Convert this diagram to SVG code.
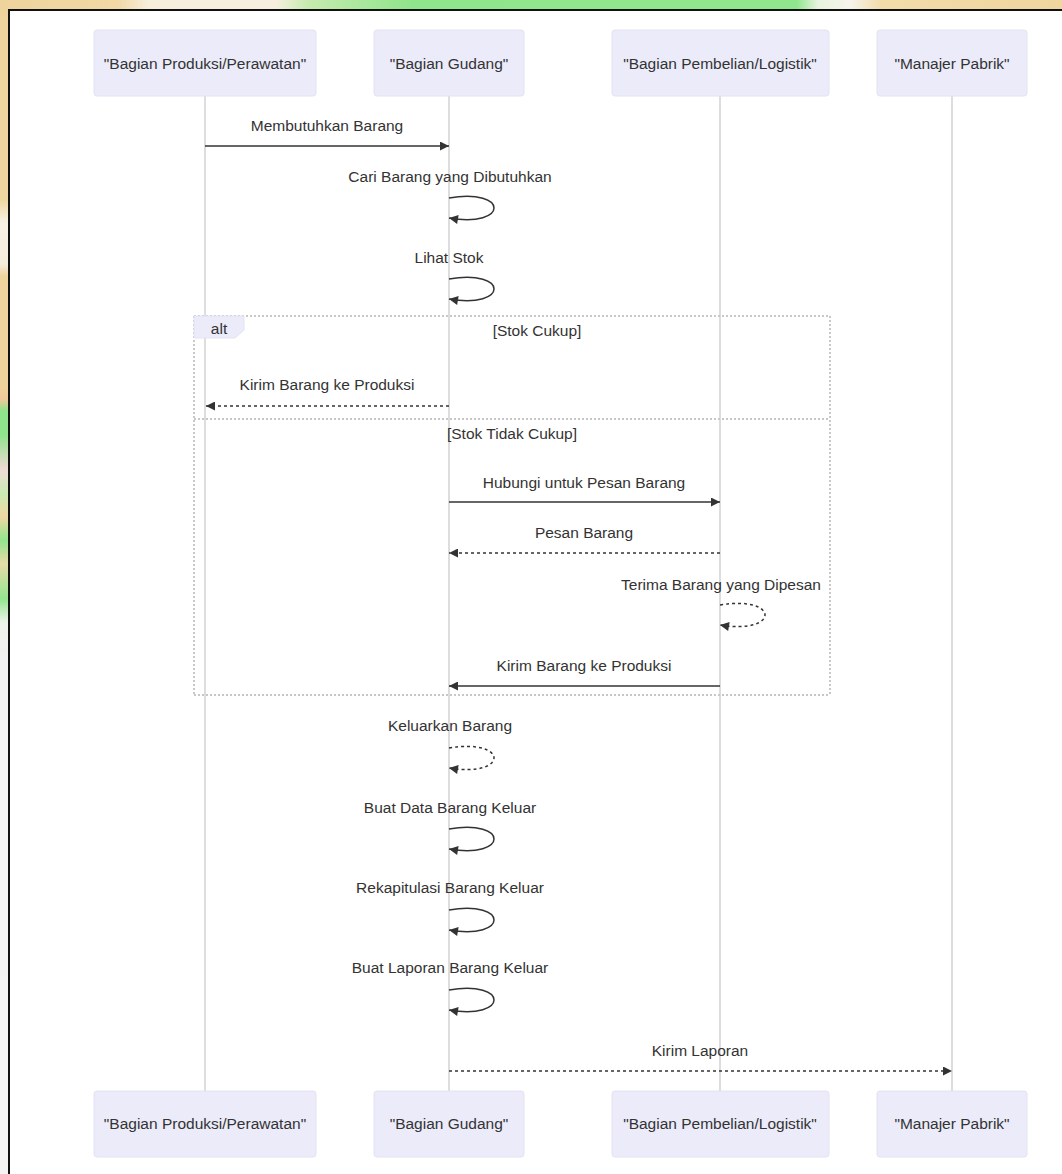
<svg xmlns="http://www.w3.org/2000/svg" width="1062" height="1174" viewBox="0 0 1062 1174">
  <defs>
    <linearGradient id="topBg" x1="0" y1="0" x2="1" y2="0">
      <stop offset="0" stop-color="#eed39c"/>
      <stop offset="0.11" stop-color="#f1d8a4"/>
      <stop offset="0.14" stop-color="#f7eedc"/>
      <stop offset="0.26" stop-color="#f6efdf"/>
      <stop offset="0.29" stop-color="#c6ebaf"/>
      <stop offset="0.39" stop-color="#8ee58b"/>
      <stop offset="0.75" stop-color="#8fe68d"/>
      <stop offset="0.77" stop-color="#e8f3de"/>
      <stop offset="0.80" stop-color="#f7f4ec"/>
      <stop offset="0.83" stop-color="#f2dcaa"/>
      <stop offset="1" stop-color="#efd59e"/>
    </linearGradient>
    <linearGradient id="leftBg" x1="0" y1="0" x2="0" y2="1">
      <stop offset="0" stop-color="#eed39c"/>
      <stop offset="0.17" stop-color="#efd6a0"/>
      <stop offset="0.19" stop-color="#f8f2e6"/>
      <stop offset="0.225" stop-color="#f6eedc"/>
      <stop offset="0.235" stop-color="#efd49e"/>
      <stop offset="0.33" stop-color="#efd39c"/>
      <stop offset="0.34" stop-color="#f1c89a"/>
      <stop offset="0.35" stop-color="#8fe48c"/>
      <stop offset="0.37" stop-color="#8fe48c"/>
      <stop offset="0.40" stop-color="#eedbd6"/>
      <stop offset="0.42" stop-color="#c9ecb4"/>
      <stop offset="0.44" stop-color="#f0d7a2"/>
      <stop offset="0.46" stop-color="#92e58e"/>
      <stop offset="0.48" stop-color="#e8dca8"/>
      <stop offset="0.51" stop-color="#93e690"/>
      <stop offset="0.53" stop-color="#eef3ea"/>
      <stop offset="0.56" stop-color="#f2f2f2"/>
      <stop offset="1" stop-color="#f4f4f4"/>
    </linearGradient>
    <marker id="arrow" viewBox="0 0 10 10" refX="10" refY="5" markerWidth="10" markerHeight="9" markerUnits="userSpaceOnUse" orient="auto">
      <path d="M0,0 L10,5 L0,10 z" fill="#333"/>
    </marker>
    <style>
      .actor rect { fill: #ebebfa; stroke: #e2e2f2; stroke-width: 1; }
      .actor text { font-family: "Liberation Sans", Arial, sans-serif; font-size: 15.5px; fill: #333; text-anchor: middle; dominant-baseline: central; }
      .lifeline { stroke: #d2d2d2; stroke-width: 1.5; }
      .msg-label { font-family: "Liberation Sans", Arial, sans-serif; font-size: 15.5px; fill: #333; text-anchor: middle; dominant-baseline: central; }
      .solid { stroke: #333; stroke-width: 1.5; fill: none; marker-end: url(#arrow); }
      .dotted { stroke: #333; stroke-width: 1.5; fill: none; stroke-dasharray: 3,3; marker-end: url(#arrow); }
      .loopline { stroke: #c8c8c8; stroke-width: 2; stroke-dasharray: 2,2; fill: none; }
      .labelbox { fill: #ebebfa; stroke: #e2e2f2; stroke-width: 1; }
    </style>
  </defs>

  <!-- surrounding backdrop -->
  <rect x="0" y="0" width="1062" height="10" fill="url(#topBg)"/>
  <rect x="0" y="0" width="9" height="1174" fill="url(#leftBg)"/>
  <rect x="9" y="10" width="1070" height="1180" fill="#ffffff" stroke="#111" stroke-width="2"/>

  <!-- lifelines -->
  <g id="lifelines">
    <line class="lifeline" x1="205" y1="96" x2="205" y2="1091"/>
    <line class="lifeline" x1="449" y1="96" x2="449" y2="1091"/>
    <line class="lifeline" x1="720" y1="96" x2="720" y2="1091"/>
    <line class="lifeline" x1="952" y1="96" x2="952" y2="1091"/>
  </g>

  <!-- actors top -->
  <g id="actor-produksi-top" class="actor">
    <rect x="94" y="30" width="222" height="66" rx="3"/>
    <text x="205" y="63">"Bagian Produksi/Perawatan"</text>
  </g>
  <g id="actor-gudang-top" class="actor">
    <rect x="374" y="30" width="150" height="66" rx="3"/>
    <text x="449" y="63">"Bagian Gudang"</text>
  </g>
  <g id="actor-pembelian-top" class="actor">
    <rect x="612" y="30" width="217" height="66" rx="3"/>
    <text x="720" y="63">"Bagian Pembelian/Logistik"</text>
  </g>
  <g id="actor-manajer-top" class="actor">
    <rect x="877" y="30" width="150" height="66" rx="3"/>
    <text x="952" y="63">"Manajer Pabrik"</text>
  </g>

  <!-- actors bottom -->
  <g id="actor-produksi-bottom" class="actor">
    <rect x="94" y="1091" width="222" height="66" rx="3"/>
    <text x="205" y="1123">"Bagian Produksi/Perawatan"</text>
  </g>
  <g id="actor-gudang-bottom" class="actor">
    <rect x="374" y="1091" width="150" height="66" rx="3"/>
    <text x="449" y="1123">"Bagian Gudang"</text>
  </g>
  <g id="actor-pembelian-bottom" class="actor">
    <rect x="612" y="1091" width="217" height="66" rx="3"/>
    <text x="720" y="1123">"Bagian Pembelian/Logistik"</text>
  </g>
  <g id="actor-manajer-bottom" class="actor">
    <rect x="877" y="1091" width="150" height="66" rx="3"/>
    <text x="952" y="1123">"Manajer Pabrik"</text>
  </g>

  <!-- alt frame -->
  <g id="alt-frame">
    <line class="loopline" x1="194" y1="316" x2="830" y2="316"/>
    <line class="loopline" x1="830" y1="316" x2="830" y2="695"/>
    <line class="loopline" x1="194" y1="695" x2="830" y2="695"/>
    <line class="loopline" x1="194" y1="316" x2="194" y2="695"/>
    <line class="loopline" x1="194" y1="419" x2="830" y2="419"/>
    <polygon class="labelbox" points="194,316 244,316 244,330 235,338 194,338"/>
    <text class="msg-label" x="219" y="328">alt</text>
    <text class="msg-label" x="537" y="330">[Stok Cukup]</text>
    <text class="msg-label" x="512" y="433">[Stok Tidak Cukup]</text>
  </g>

  <!-- connectors -->
  <g id="connectors">
    <line class="solid" x1="205" y1="146" x2="449" y2="146"/>
    <path class="solid" d="M449,198 C509,188 509,228 449,218"/>
    <path class="solid" d="M449,279 C509,269 509,309 449,299"/>
    <line class="dotted" x1="449" y1="406" x2="206" y2="406"/>
    <line class="solid" x1="449" y1="502" x2="720" y2="502"/>
    <line class="dotted" x1="720" y1="553" x2="449" y2="553"/>
    <path class="dotted" d="M720,605 C780,595 780,635 720,625"/>
    <line class="solid" x1="720" y1="686" x2="449" y2="686"/>
    <path class="dotted" d="M449,748 C509,738 509,778 449,768"/>
    <path class="solid" d="M449,829 C509,819 509,859 449,849"/>
    <path class="solid" d="M449,910 C509,900 509,940 449,930"/>
    <path class="solid" d="M449,990 C509,980 509,1020 449,1010"/>
    <line class="dotted" x1="449" y1="1071" x2="952" y2="1071"/>
  </g>

  <!-- message labels -->
  <g id="labels">
    <text class="msg-label" x="327" y="125">Membutuhkan Barang</text>
    <text class="msg-label" x="450" y="176">Cari Barang yang Dibutuhkan</text>
    <text class="msg-label" x="449" y="257">Lihat Stok</text>
    <text class="msg-label" x="327" y="384">Kirim Barang ke Produksi</text>
    <text class="msg-label" x="584" y="482">Hubungi untuk Pesan Barang</text>
    <text class="msg-label" x="584" y="532">Pesan Barang</text>
    <text class="msg-label" x="721" y="584">Terima Barang yang Dipesan</text>
    <text class="msg-label" x="584" y="665">Kirim Barang ke Produksi</text>
    <text class="msg-label" x="450" y="725">Keluarkan Barang</text>
    <text class="msg-label" x="450" y="807">Buat Data Barang Keluar</text>
    <text class="msg-label" x="450" y="887">Rekapitulasi Barang Keluar</text>
    <text class="msg-label" x="450" y="967">Buat Laporan Barang Keluar</text>
    <text class="msg-label" x="700" y="1050">Kirim Laporan</text>
  </g>
</svg>
